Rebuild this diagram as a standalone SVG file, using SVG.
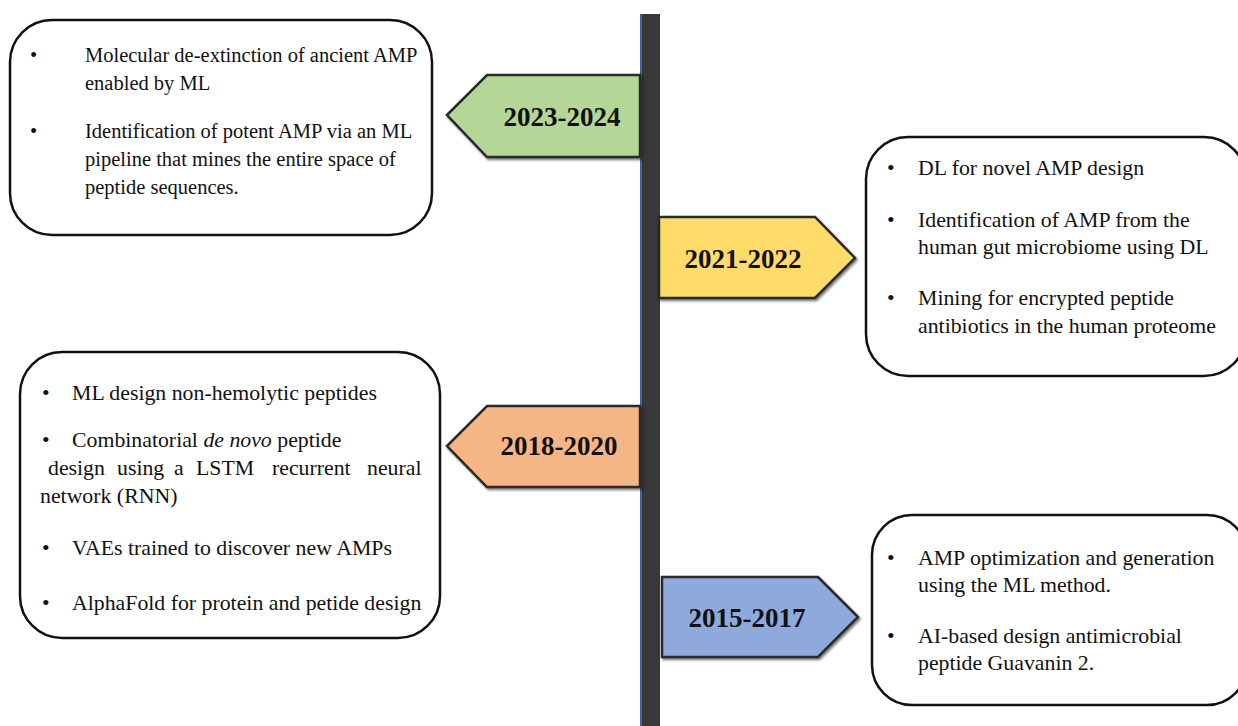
<svg xmlns="http://www.w3.org/2000/svg" width="1238" height="726" viewBox="0 0 1238 726">
<style>
.box{fill:#fff;stroke:#111;stroke-width:2.5}
.t{font-family:"Liberation Serif","Times New Roman",serif;font-size:21.8px;fill:#111}
.t1{font-size:20.5px}
.yr{font-family:"Liberation Serif","Times New Roman",serif;font-size:27px;font-weight:bold;fill:#111;text-anchor:middle}
.arr{stroke:#2a2a2a;stroke-width:2.5}
</style>
<defs>
<filter id="sh" x="-10%" y="-10%" width="130%" height="130%"><feDropShadow dx="1.5" dy="2" stdDeviation="1" flood-color="#000" flood-opacity="0.5"/></filter>
</defs>
<g id="connectors">
<rect x="640" y="14" width="20" height="712" fill="#383838"/>
<line x1="641" y1="14" x2="641" y2="726" stroke="#4472c4" stroke-width="1.5"/>
</g>
<g id="box2023">
<rect class="box" x="10" y="20" width="422" height="215" rx="42"/>
<text class="t t1" x="30" y="62">•</text>
<text class="t t1" x="85" y="62">Molecular de-extinction of ancient AMP</text>
<text class="t t1" x="85" y="90">enabled by ML</text>
<text class="t t1" x="30" y="138">•</text>
<text class="t t1" x="85" y="138">Identification of potent AMP via an ML</text>
<text class="t t1" x="85" y="166">pipeline that mines the entire space of</text>
<text class="t t1" x="85" y="194">peptide sequences.</text>
</g>
<g id="arrow2023">
<polygon class="arr" filter="url(#sh)" points="447,115 487,75 640,75 640,157 487,157" fill="#b4d697"/>
<text class="yr" x="562" y="126">2023-2024</text>
</g>
<g id="box2021">
<rect class="box" x="866" y="137" width="380" height="239" rx="42"/>
<text class="t" x="887" y="175">•</text>
<text class="t" x="918" y="175">DL for novel AMP design</text>
<text class="t" x="887" y="227">•</text>
<text class="t" x="918" y="227">Identification of AMP from the</text>
<text class="t" x="918" y="254">human gut microbiome using DL</text>
<text class="t" x="887" y="305">•</text>
<text class="t" x="918" y="305">Mining for encrypted peptide</text>
<text class="t" x="918" y="333">antibiotics in the human proteome</text>
</g>
<g id="arrow2021">
<polygon class="arr" filter="url(#sh)" points="659,217 815,217 855,258 815,298 659,298" fill="#ffdb6a"/>
<text class="yr" x="743" y="268">2021-2022</text>
</g>
<g id="box2018">
<rect class="box" x="20" y="352" width="420" height="286" rx="42"/>
<text class="t" x="42" y="400">•</text>
<text class="t" x="72" y="400">ML design non-hemolytic peptides</text>
<text class="t" x="42" y="447">•</text>
<text class="t" x="72" y="447">Combinatorial <tspan font-style="italic">de novo</tspan> peptide</text>
<text class="t" y="475"><tspan x="48">design</tspan><tspan x="117">using</tspan><tspan x="174">a</tspan><tspan x="196">LSTM</tspan><tspan x="272">recurrent</tspan><tspan x="367">neural</tspan></text>
<text class="t" x="40" y="503">network (RNN)</text>
<text class="t" x="42" y="555">•</text>
<text class="t" x="72" y="555">VAEs trained to discover new AMPs</text>
<text class="t" x="42" y="610">•</text>
<text class="t" x="72" y="610">AlphaFold for protein and petide design</text>
</g>
<g id="arrow2018">
<polygon class="arr" filter="url(#sh)" points="447,446 487,406 640,406 640,487 487,487" fill="#f6b585"/>
<text class="yr" x="559" y="455">2018-2020</text>
</g>
<g id="box2015">
<rect class="box" x="872" y="515" width="375" height="190" rx="40"/>
<text class="t" x="887" y="565">•</text>
<text class="t" x="918" y="565">AMP optimization and generation</text>
<text class="t" x="918" y="592">using the ML method.</text>
<text class="t" x="887" y="643">•</text>
<text class="t" x="918" y="643">AI-based design antimicrobial</text>
<text class="t" x="918" y="670">peptide Guavanin 2.</text>
</g>
<g id="arrow2015">
<polygon class="arr" filter="url(#sh)" points="662,577 818,577 858,617 818,657 662,657" fill="#8eaadc"/>
<text class="yr" x="747" y="627">2015-2017</text>
</g>
</svg>
